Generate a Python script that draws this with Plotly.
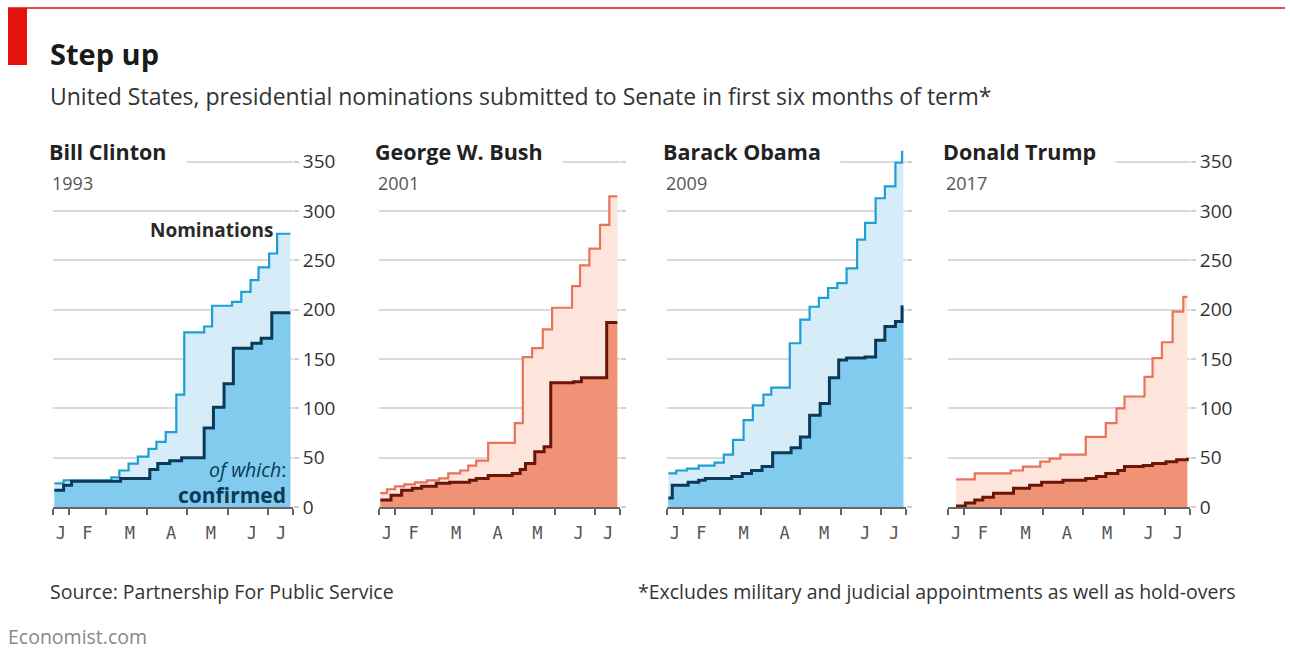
import plotly.graph_objects as go

W = 1290
H_REF = 648          # pixel grid of the reference
H = 661              # rendered figure height (output is squashed vertically by ~0.98)

# ---------------- data ----------------
# x = days since inauguration (Jan 20)
month_tick_days = [0, 12, 40, 71, 101, 132, 162, 181]
month_label_days = [6, 26, 58, 89, 119, 150, 172]
month_labels = ["J", "F", "M", "A", "M", "J", "J"]
y_tick_vals = [0, 50, 100, 150, 200, 250, 300, 350]

presidents = ["Bill Clinton", "George W. Bush", "Barack Obama", "Donald Trump"]
years = ["1993", "2001", "2009", "2017"]

clinton_nom_days = [1, 8, 44, 50, 57, 64, 72, 78, 85, 93, 99, 114, 120, 135, 142, 149, 155, 163, 169, 179]
clinton_nom = [24, 27, 30, 37, 44, 51, 59, 66, 76, 114, 177, 183, 204, 208, 218, 230, 243, 257, 277, 277]
clinton_conf_days = [1, 8, 14, 51, 73, 79, 88, 97, 114, 121, 129, 136, 150, 157, 165, 179]
clinton_conf = [17, 22, 26, 29, 38, 44, 47, 50, 80, 101, 125, 161, 166, 171, 197, 197]

bush_nom_days = [1, 6, 12, 19, 27, 36, 45, 52, 61, 67, 73, 82, 102, 108, 115, 123, 130, 145, 151, 158, 166, 173, 179]
bush_nom = [14, 18, 21, 23, 25, 27, 29, 34, 37, 42, 47, 65, 85, 152, 161, 180, 202, 224, 245, 262, 286, 315, 315]
bush_conf_days = [1, 9, 17, 25, 32, 43, 53, 68, 73, 82, 100, 106, 110, 117, 124, 129, 146, 152, 171, 179]
bush_conf = [7, 12, 17, 19, 21, 24, 25, 27, 29, 32, 34, 38, 44, 56, 61, 126, 127, 131, 187, 187]

obama_nom_days = [1, 7, 15, 24, 36, 43, 50, 58, 65, 73, 79, 93, 101, 108, 115, 122, 129, 136, 144, 150, 158, 165, 173, 178, 179]
obama_nom = [34, 37, 39, 42, 45, 53, 68, 88, 103, 114, 121, 166, 190, 203, 212, 222, 227, 242, 271, 288, 313, 325, 349, 360, 360]
obama_conf_days = [1, 4, 16, 24, 29, 49, 57, 64, 72, 80, 94, 101, 108, 116, 123, 130, 136, 150, 158, 165, 173, 178, 179]
obama_conf = [9, 22, 25, 27, 29, 31, 34, 37, 41, 55, 60, 71, 93, 105, 131, 149, 151, 152, 169, 183, 188, 203, 203]

trump_nom_days = [6, 20, 47, 56, 69, 76, 84, 103, 118, 126, 132, 147, 153, 160, 168, 176, 179]
trump_nom = [28, 34, 37, 41, 46, 49, 53, 71, 85, 100, 112, 132, 151, 167, 198, 213, 213]
trump_conf_days = [6, 13, 20, 26, 34, 49, 61, 70, 86, 103, 111, 118, 127, 132, 146, 153, 163, 171, 179]
trump_conf = [1, 4, 7, 10, 14, 19, 22, 25, 27, 29, 31, 34, 37, 41, 42, 44, 46, 48, 50]

series = [
    (clinton_nom_days, clinton_nom, clinton_conf_days, clinton_conf),
    (bush_nom_days, bush_nom, bush_conf_days, bush_conf),
    (obama_nom_days, obama_nom, obama_conf_days, obama_conf),
    (trump_nom_days, trump_nom, trump_conf_days, trump_conf),
]

# ---------------- styles ----------------
FONT = "Open Sans"
BLUE = dict(nom_line="#1c9fd3", nom_fill="#d6edf9", conf_line="#0b3a58", conf_fill="#80cbee")
RED = dict(nom_line="#e8735a", nom_fill="#fde5db", conf_line="#6a1508", conf_fill="#ef9276")
palettes = [BLUE, RED, BLUE, RED]

panel_px = [(53, 293), (379, 620), (667, 906), (948, 1190)]
y_top_px, y_bot_px = 144, 507
Y_MAX = 368


def px_x(p):
    return p / W


def px_y(p):
    return 1 - p / H_REF


fig = go.Figure()

for i, (nd, nv, cd, cv) in enumerate(series):
    pal = palettes[i]
    xa = "x" if i == 0 else f"x{i+1}"
    ya = "y" if i == 0 else f"y{i+1}"
    fig.add_trace(go.Scatter(
        x=nd, y=nv, mode="lines", line=dict(shape="hv", color=pal["nom_line"], width=2.2),
        fill="tozeroy", fillcolor=pal["nom_fill"], xaxis=xa, yaxis=ya,
        showlegend=False, hoverinfo="skip"))
    fig.add_trace(go.Scatter(
        x=cd, y=cv, mode="lines", line=dict(shape="hv", color=pal["conf_line"], width=3),
        fill="tozeroy", fillcolor=pal["conf_fill"], xaxis=xa, yaxis=ya,
        showlegend=False, hoverinfo="skip"))

layout_axes = {}
for i in range(4):
    x0, x1 = panel_px[i]
    xk = "xaxis" if i == 0 else f"xaxis{i+1}"
    yk = "yaxis" if i == 0 else f"yaxis{i+1}"
    ya = "y" if i == 0 else f"y{i+1}"
    xa = "x" if i == 0 else f"x{i+1}"
    layout_axes[xk] = dict(
        domain=[px_x(x0), px_x(x1)], range=[0, 181], anchor=ya,
        tickmode="array", tickvals=month_label_days, ticktext=month_labels,
        ticks="", ticklabelstandoff=10,
        tickfont=dict(family="DejaVu Sans Mono", size=17, color="#555"),
        showline=True, linecolor="#666", linewidth=1.5,
        showgrid=False, zeroline=False, fixedrange=True,
        minor=dict(tickmode="array", tickvals=month_tick_days, ticks="outside",
                   ticklen=6, tickcolor="#666", tickwidth=1.5, showgrid=False),
    )
    layout_axes[yk] = dict(
        domain=[px_y(y_bot_px), px_y(y_top_px)], range=[0, Y_MAX], anchor=xa,
        side="right", tickmode="array", tickvals=y_tick_vals,
        showticklabels=(i in (0, 3)),
        ticks="outside", ticklen=5, tickcolor="#d0d0d0", tickwidth=1.5,
        tickfont=dict(family=FONT, size=19, color="#333"),
        showgrid=True, gridcolor="#d9d9d9", gridwidth=1.5,
        zeroline=False, showline=False, fixedrange=True,
    )

annotations = []


def add_text(text, xp, yp, size, color="#222", anchor="left", bold=False, bg=None, pad=0, family=FONT):
    if bold:
        text = f"<b>{text}</b>"
    a = dict(text=text, x=px_x(xp), y=px_y(yp), xref="paper", yref="paper",
             xanchor=anchor, yanchor="middle", showarrow=False,
             font=dict(family=family, size=size, color=color))
    if bg:
        a["bgcolor"] = bg
        a["borderpad"] = pad
    annotations.append(a)


# titles
add_text("Step up", 48, 53, 29, "#1a1a1a", bold=True)
add_text("United States, presidential nominations submitted to Senate in first six months of term*",
         48, 96, 23, "#333")

title_x = [50, 376, 664, 944]
for i in range(4):
    add_text(presidents[i] + "&nbsp;&nbsp;", title_x[i] - 10, 152, 21.5, "#222", bold=True, bg="white", pad=8)
    add_text(years[i], title_x[i], 183, 18, "#555")

add_text("Nominations", 275, 230, 19, "#2a2a2a", anchor="right", bold=True)
add_text("<i>of which</i>:", 288, 469, 19.5, "#0b3a58", anchor="right")
add_text("confirmed", 288, 495, 21, "#0b3a58", anchor="right", bold=True)

add_text("Source: Partnership For Public Service", 48, 591, 19.5, "#333")
add_text("*Excludes military and judicial appointments as well as hold-overs", 1238, 591, 19.5, "#333",
         anchor="right")
add_text("Economist.com", 6, 636, 19.5, "#888")

shapes = [
    dict(type="line", xref="paper", yref="paper", x0=px_x(8), x1=px_x(1285),
         y0=px_y(8), y1=px_y(8), line=dict(color="#e3120b", width=1.5)),
    dict(type="rect", xref="paper", yref="paper", x0=px_x(8), x1=px_x(27),
         y0=px_y(8), y1=px_y(65), fillcolor="#e3120b", line=dict(width=0)),
]

fig.update_layout(
    width=W, height=H, autosize=False,
    margin=dict(l=0, r=0, t=0, b=0),
    paper_bgcolor="white", plot_bgcolor="white",
    font=dict(family=FONT),
    annotations=annotations, shapes=shapes,
    showlegend=False,
    **layout_axes,
)

post = """
var de = document.documentElement, b = document.body;
[de, b].forEach(function(e){ e.style.margin='0'; e.style.padding='0'; e.style.overflow='hidden'; });
"""

fig.write_html("out.html", config={"displayModeBar": False}, post_script=post)
